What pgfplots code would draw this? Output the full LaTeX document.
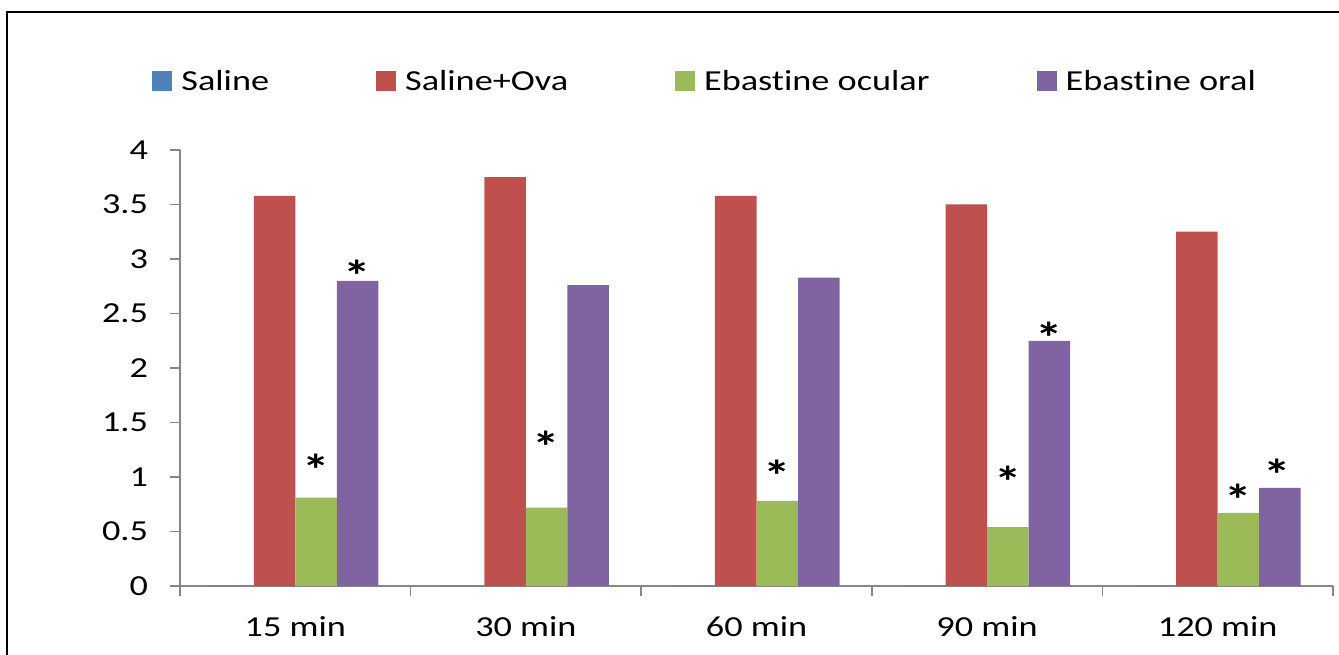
\documentclass[border=0pt]{standalone}
\usepackage{fontspec}
\setmainfont{Carlito}[FakeStretch=1.25, Ligatures={NoCommon}]
\usepackage{pgfplots}
\pgfplotsset{compat=1.18}

\definecolor{cblue}{HTML}{4F81BD}
\definecolor{cred}{HTML}{C0504D}
\definecolor{cgreen}{HTML}{9BBB59}
\definecolor{cpurple}{HTML}{8064A2}
\definecolor{axisgray}{HTML}{868686}

\begin{document}
\fontsize{14.5}{17}\selectfont
\begin{tikzpicture}
\useasboundingbox (-90pt,-34pt) rectangle (579.5pt,293pt);
% outer frame (bottom and right edges fall outside the page)
\draw[line width=1pt] (-86.5pt,-60pt) rectangle (600pt,286.75pt);

\begin{axis}[
  at={(0pt,0pt)}, anchor=south west,
  scale only axis, width=576.5pt, height=218pt,
  xmin=-0.5, xmax=4.5, ymin=0, ymax=4,
  ybar=0pt, bar width=0.18,
  axis x line=bottom, axis y line=left,
  axis line style={draw=axisgray, line width=0.75pt, -},
  xtick={0,...,4},
  xticklabels={15 min,30 min,60 min,90 min,120 min},
  minor xtick={-0.5,0.5,...,4.5},
  major x tick style={draw=none},
  ytick={0,0.5,...,4},
  tick align=outside,
  major tick length=5pt, minor tick length=5pt,
  tick style={draw=axisgray, line width=0.75pt},
  yticklabel style={xshift=-6pt},
  xticklabel style={yshift=-5pt},
  /pgf/number format/assume math mode=true,
  legend columns=4,
  legend style={draw=none, fill=none, at={(0,1)}, anchor=west,
    xshift=-14pt, yshift=33.5pt, inner sep=0pt,
    nodes={inner sep=0pt},
    /tikz/every even column/.append style={column sep=53.5pt},
    /tikz/every odd column/.append style={column sep=4.5pt}},
  legend image code/.code={\fill[#1] (0pt,-4pt) rectangle (10pt,6pt);},
]
\addplot[fill=cblue, draw=none] coordinates {(0,0) (1,0) (2,0) (3,0) (4,0)};
\addlegendentry{Saline}
\addplot[fill=cred, draw=none] coordinates {(0,3.58) (1,3.75) (2,3.58) (3,3.50) (4,3.25)};
\addlegendentry{Saline+Ova}
\addplot[fill=cgreen, draw=none] coordinates {(0,0.81) (1,0.72) (2,0.78) (3,0.54) (4,0.67)};
\addlegendentry{Ebastine ocular}
\addplot[fill=cpurple, draw=none] coordinates {(0,2.80) (1,2.76) (2,2.83) (3,2.25) (4,0.90)};
\addlegendentry{Ebastine oral}
\end{axis}

% significance asterisks
\begin{axis}[
  at={(0pt,0pt)}, anchor=south west,
  scale only axis, width=576.5pt, height=218pt,
  xmin=-0.5, xmax=4.5, ymin=0, ymax=4,
  hide axis,
]
\addplot[only marks, mark=text,
  text mark={\fontsize{22}{22}\selectfont\bfseries *}]
  coordinates {
  (0.09,1.065) (1.09,1.275) (2.09,1.015) (3.09,0.955) (4.09,0.795)
  (0.27,2.845) (3.27,2.275) (4.26,1.025)
};
\end{axis}
\end{tikzpicture}
\end{document}
